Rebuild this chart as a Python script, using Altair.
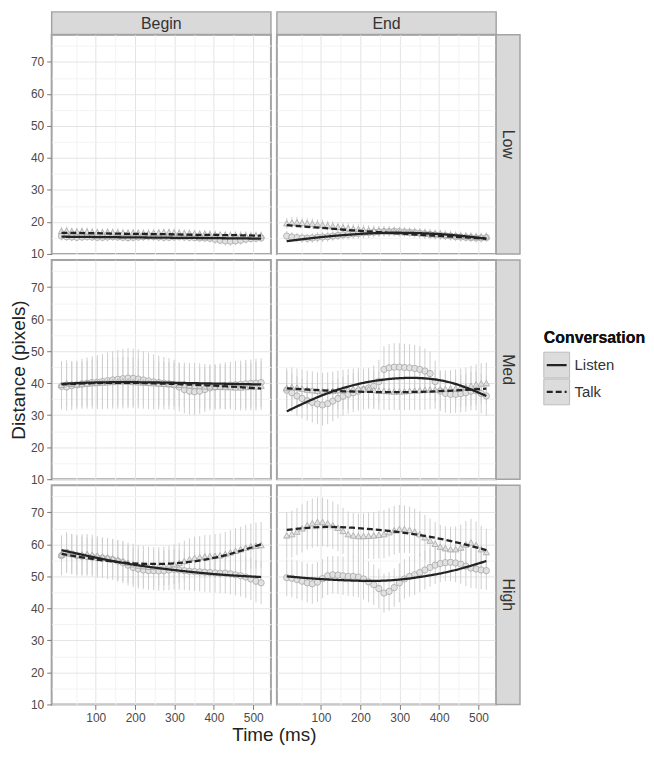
import altair as alt
import pandas as pd

# ---------------- data ----------------
PERIODS = ["Begin", "End"]
LEVELS = ["Low", "Med", "High"]
CONVERSATIONS = ["Listen", "Talk"]
LEGEND_TITLE = "Conversation"
X_TITLE = "Time (ms)"
Y_TITLE = "Distance (pixels)"

TIMES = [13, 26, 39, 52, 65, 78, 91, 104, 117, 130,
         143, 156, 169, 182, 195, 208, 221, 234, 247, 260,
         273, 286, 299, 312, 325, 338, 351, 364, 377, 390,
         403, 416, 429, 442, 455, 468, 481, 494, 507, 520]
FIT_TIMES = [13, 95, 180, 265, 350, 435, 520]

X_GRID = [50, 100, 150, 200, 250, 300, 350, 400, 450, 500]
Y_GRID = [10, 15, 20, 25, 30, 35, 40, 45, 50, 55, 60, 65, 70, 75]

BEGIN_LOW_LISTEN = [15.6, 15.4, 15.3, 15.2, 15.3, 15.4, 15.3, 15.2, 15.2, 15.3,
                    15.4, 15.3, 15.2, 15.1, 15.2, 15.3, 15.4, 15.5, 15.4, 15.3,
                    15.2, 15.2, 15.3, 15.4, 15.3, 15.2, 15.1, 15.0, 15.0, 14.9,
                    14.6, 14.3, 14.1, 14.0, 14.1, 14.3, 14.6, 14.8, 14.9, 15.0]
BEGIN_LOW_TALK = [17.2, 17.3, 17.1, 17.0, 17.1, 17.0, 16.9, 16.8, 16.8, 16.9,
                  16.8, 16.7, 16.6, 16.6, 16.7, 16.6, 16.5, 16.5, 16.6, 16.7,
                  16.8, 16.8, 16.7, 16.6, 16.5, 16.5, 16.4, 16.3, 16.3, 16.2,
                  16.1, 16.0, 16.0, 15.9, 15.9, 15.8, 15.8, 15.7, 15.8, 15.8]
END_LOW_LISTEN = [15.6, 15.3, 15.1, 15.0, 14.9, 15.0, 15.2, 15.3, 15.4, 15.6,
                  15.8, 16.0, 16.1, 16.3, 16.4, 16.6, 16.7, 16.8, 16.9, 17.0,
                  17.0, 17.1, 17.0, 16.9, 16.8, 16.7, 16.5, 16.3, 16.1, 16.0,
                  15.9, 15.7, 15.6, 15.4, 15.3, 15.2, 15.1, 15.0, 15.0, 15.1]
END_LOW_TALK = [19.6, 19.8, 19.9, 19.7, 19.6, 19.5, 19.3, 19.1, 18.9, 18.7,
                18.5, 18.3, 18.1, 17.9, 17.8, 17.6, 17.5, 17.4, 17.3, 17.2,
                17.1, 17.0, 16.9, 16.8, 16.8, 16.7, 16.6, 16.5, 16.4, 16.3,
                16.2, 16.0, 15.9, 15.8, 15.7, 15.6, 15.5, 15.4, 15.4, 15.5]
BEGIN_MED_LISTEN = [39.0, 38.8, 39.2, 39.5, 39.8, 40.0, 40.2, 40.3, 40.5, 40.8,
                    41.0, 41.2, 41.4, 41.6, 41.5, 41.3, 41.0, 40.7, 40.4, 40.2,
                    40.0, 39.8, 39.5, 38.8, 38.0, 37.5, 37.3, 37.5, 38.0, 38.5,
                    38.8, 39.0, 39.2, 39.4, 39.5, 39.6, 39.8, 39.9, 40.0, 40.2]
BEGIN_MED_TALK = [39.5, 40.0, 39.8, 39.6, 39.7, 39.9, 40.0, 40.1, 40.2, 40.3,
                  40.4, 40.5, 40.6, 40.5, 40.4, 40.3, 40.2, 40.1, 40.0, 39.9,
                  39.8, 39.7, 39.6, 39.5, 39.4, 39.3, 39.2, 39.1, 39.0, 39.0,
                  38.9, 38.9, 38.8, 38.8, 38.7, 38.7, 38.8, 38.9, 39.0, 39.2]
END_MED_LISTEN = [37.8, 37.0, 36.0, 35.2, 34.5, 34.0, 33.5, 33.2, 33.6, 34.4,
                  35.2, 35.9, 36.5, 37.0, 37.5, 38.0, 38.5, 39.0, 40.5, 44.3,
                  44.8, 45.0, 45.0, 44.9, 44.8, 44.6, 44.3, 43.8, 43.0, 40.5,
                  37.5, 36.8, 36.5, 36.5, 36.7, 37.0, 37.5, 37.6, 36.8, 36.0]
END_MED_TALK = [38.5, 38.8, 38.6, 38.3, 38.0, 37.8, 37.6, 37.5, 37.5, 37.6,
                37.8, 38.0, 38.2, 38.3, 38.4, 38.3, 38.1, 37.9, 37.7, 37.6,
                37.5, 37.4, 37.4, 37.5, 37.6, 37.7, 37.8, 37.9, 38.0, 38.0,
                38.1, 38.2, 38.3, 38.4, 38.6, 38.8, 39.2, 39.6, 39.9, 40.0]
BEGIN_HIGH_LISTEN = [56.5, 57.5, 57.0, 56.5, 56.3, 56.2, 56.0, 55.8, 55.7, 55.5,
                     55.2, 54.8, 54.3, 53.5, 52.8, 52.3, 52.0, 51.8, 51.8, 51.7,
                     51.8, 52.0, 52.2, 52.0, 51.8, 51.6, 51.5, 51.4, 51.3, 51.2,
                     51.1, 51.0, 51.0, 50.8, 50.5, 50.2, 49.8, 49.2, 48.5, 48.0]
BEGIN_HIGH_TALK = [56.8, 57.2, 57.0, 56.8, 56.9, 57.0, 56.8, 56.5, 56.2, 56.0,
                   55.6, 55.2, 54.8, 54.3, 53.8, 53.4, 53.2, 53.0, 53.0, 53.1,
                   53.3, 53.5, 53.8, 54.2, 54.8, 55.4, 55.8, 56.0, 56.2, 56.3,
                   56.4, 56.6, 57.0, 57.5, 58.0, 58.5, 59.0, 59.4, 59.6, 59.8]
END_HIGH_LISTEN = [49.6, 49.4, 49.0, 48.5, 48.0, 47.7, 48.2, 49.3, 50.2, 50.5,
                   50.4, 50.2, 50.0, 50.0, 49.8, 49.2, 48.3, 47.4, 46.2, 44.8,
                   45.3, 46.5, 48.0, 49.2, 50.0, 50.5, 51.2, 52.0, 52.8, 53.5,
                   54.0, 54.3, 54.4, 54.2, 53.8, 53.2, 52.6, 52.3, 52.0, 51.8]
END_HIGH_TALK = [62.8, 63.2, 64.0, 65.0, 66.0, 66.6, 67.0, 67.0, 66.6, 66.0,
                 65.2, 64.2, 63.2, 62.8, 62.6, 62.6, 62.7, 62.8, 63.0, 63.2,
                 63.8, 64.4, 64.8, 64.8, 64.5, 64.0, 63.2, 62.2, 61.2, 60.2,
                 59.3, 58.8, 58.5, 58.5, 59.0, 60.0, 60.6, 59.8, 58.5, 57.6]

SE_BEGIN_LOW_LISTEN = [1.4, 1.3, 1.3, 1.2, 1.3, 1.3, 1.2, 1.2, 1.3, 1.3,
                       1.3, 1.2, 1.2, 1.3, 1.3, 1.3, 1.4, 1.4, 1.3, 1.3,
                       1.3, 1.2, 1.2, 1.3, 1.3, 1.3, 1.2, 1.2, 1.3, 1.3,
                       1.4, 1.4, 1.5, 1.5, 1.4, 1.4, 1.3, 1.3, 1.3, 1.3]
SE_BEGIN_LOW_TALK = [1.3, 1.3, 1.2, 1.2, 1.2, 1.3, 1.3, 1.2, 1.2, 1.2,
                     1.2, 1.3, 1.3, 1.2, 1.2, 1.2, 1.3, 1.3, 1.3, 1.2,
                     1.2, 1.2, 1.3, 1.3, 1.2, 1.2, 1.2, 1.2, 1.3, 1.3,
                     1.3, 1.2, 1.2, 1.2, 1.2, 1.3, 1.3, 1.3, 1.2, 1.2]
SE_END_LOW_LISTEN = [1.6, 1.6, 1.5, 1.5, 1.5, 1.5, 1.6, 1.6, 1.6, 1.5,
                     1.5, 1.5, 1.6, 1.6, 1.6, 1.7, 1.7, 1.7, 1.6, 1.6,
                     1.6, 1.5, 1.5, 1.5, 1.5, 1.6, 1.6, 1.6, 1.5, 1.5,
                     1.5, 1.4, 1.4, 1.4, 1.4, 1.4, 1.4, 1.4, 1.4, 1.4]
SE_END_LOW_TALK = [1.7, 1.7, 1.7, 1.6, 1.6, 1.6, 1.6, 1.6, 1.5, 1.5,
                   1.5, 1.5, 1.5, 1.5, 1.5, 1.5, 1.5, 1.5, 1.5, 1.5,
                   1.5, 1.5, 1.4, 1.4, 1.4, 1.4, 1.4, 1.4, 1.4, 1.4,
                   1.4, 1.4, 1.4, 1.3, 1.3, 1.3, 1.3, 1.3, 1.3, 1.3]
SE_BEGIN_MED_LISTEN = [7.2, 7.4, 7.6, 7.5, 7.8, 8.0, 8.2, 8.4, 8.6, 8.8,
                       9.0, 9.2, 9.3, 9.4, 9.3, 9.2, 9.0, 8.8, 8.6, 8.4,
                       8.2, 8.0, 7.8, 7.6, 7.4, 7.3, 7.2, 7.1, 7.0, 7.0,
                       7.1, 7.2, 7.3, 7.3, 7.4, 7.4, 7.5, 7.5, 7.6, 7.6]
SE_BEGIN_MED_TALK = [7.4, 7.2, 7.0, 6.9, 7.0, 7.1, 7.2, 7.3, 7.3, 7.4,
                     7.5, 7.5, 7.6, 7.6, 7.5, 7.4, 7.3, 7.2, 7.1, 7.0,
                     6.9, 6.8, 6.8, 6.9, 7.0, 7.0, 7.1, 7.1, 7.0, 6.9,
                     6.8, 6.8, 6.9, 7.0, 7.1, 7.2, 7.3, 7.4, 7.5, 7.6]
SE_END_MED_LISTEN = [6.0, 6.0, 6.1, 6.2, 6.2, 6.3, 6.3, 6.4, 6.4, 6.3,
                     6.2, 6.1, 6.0, 6.0, 6.1, 6.2, 6.3, 6.5, 6.8, 7.2,
                     7.4, 7.5, 7.5, 7.4, 7.4, 7.3, 7.2, 7.0, 6.8, 6.5,
                     6.2, 6.0, 5.9, 5.8, 5.8, 5.9, 6.0, 6.1, 6.2, 6.2]
SE_END_MED_TALK = [6.2, 6.1, 6.0, 6.0, 5.9, 5.9, 5.8, 5.8, 5.9, 6.0,
                   6.1, 6.2, 6.2, 6.3, 6.3, 6.2, 6.1, 6.0, 6.0, 5.9,
                   5.9, 5.8, 5.8, 5.9, 6.0, 6.1, 6.2, 6.2, 6.1, 6.0,
                   5.9, 5.8, 5.8, 5.9, 6.0, 6.1, 6.2, 6.3, 6.3, 6.4]
SE_BEGIN_HIGH_LISTEN = [6.2, 6.3, 6.3, 6.2, 6.1, 6.0, 6.0, 6.1, 6.2, 6.3,
                        6.3, 6.4, 6.4, 6.3, 6.2, 6.1, 6.0, 6.0, 6.1, 6.2,
                        6.2, 6.3, 6.3, 6.2, 6.1, 6.0, 6.0, 6.1, 6.1, 6.2,
                        6.2, 6.3, 6.3, 6.4, 6.4, 6.5, 6.5, 6.6, 6.6, 6.7]
SE_BEGIN_HIGH_TALK = [6.0, 6.1, 6.2, 6.2, 6.3, 6.3, 6.2, 6.1, 6.0, 6.0,
                      6.1, 6.2, 6.3, 6.3, 6.4, 6.4, 6.3, 6.2, 6.1, 6.0,
                      6.0, 6.1, 6.2, 6.3, 6.4, 6.5, 6.6, 6.6, 6.7, 6.7,
                      6.8, 6.8, 6.9, 6.9, 7.0, 7.0, 7.1, 7.1, 7.2, 7.2]
SE_END_HIGH_LISTEN = [5.8, 5.9, 6.0, 6.0, 6.1, 6.2, 6.2, 6.1, 6.0, 5.9,
                      5.9, 6.0, 6.1, 6.2, 6.3, 6.4, 6.4, 6.3, 6.2, 6.1,
                      6.0, 6.0, 6.1, 6.2, 6.3, 6.3, 6.2, 6.1, 6.0, 5.9,
                      5.8, 5.8, 5.9, 6.0, 6.1, 6.2, 6.2, 6.1, 6.0, 6.0]
SE_END_HIGH_TALK = [7.2, 7.3, 7.4, 7.5, 7.6, 7.7, 7.7, 7.6, 7.5, 7.4,
                    7.3, 7.2, 7.1, 7.0, 7.0, 7.1, 7.2, 7.3, 7.4, 7.5,
                    7.6, 7.6, 7.5, 7.4, 7.3, 7.2, 7.1, 7.0, 6.9, 6.8,
                    6.8, 6.9, 7.0, 7.1, 7.2, 7.3, 7.4, 7.4, 7.3, 7.2]

FIT_BEGIN_LOW_LISTEN = [15.4, 15.3, 15.2, 15.1, 15.0, 14.9, 14.8]
FIT_BEGIN_LOW_TALK = [16.6, 16.5, 16.3, 16.2, 16.0, 15.9, 15.7]
FIT_END_LOW_LISTEN = [14.0, 15.2, 16.1, 16.6, 16.5, 15.9, 14.8]
FIT_END_LOW_TALK = [19.0, 18.2, 17.4, 16.7, 16.0, 15.4, 14.8]
FIT_BEGIN_MED_LISTEN = [39.8, 40.2, 40.3, 40.2, 40.0, 39.8, 39.6]
FIT_BEGIN_MED_TALK = [39.6, 40.0, 40.1, 39.9, 39.5, 39.0, 38.3]
FIT_END_MED_LISTEN = [31.2, 35.8, 39.3, 41.2, 41.6, 40.0, 36.0]
FIT_END_MED_TALK = [38.4, 37.8, 37.4, 37.2, 37.3, 37.7, 38.3]
FIT_BEGIN_HIGH_LISTEN = [58.2, 56.0, 54.0, 52.5, 51.3, 50.4, 49.8]
FIT_BEGIN_HIGH_TALK = [57.0, 55.4, 54.2, 53.9, 54.7, 56.8, 60.0]
FIT_END_HIGH_LISTEN = [50.0, 49.2, 48.7, 48.7, 49.8, 51.8, 54.8]
FIT_END_HIGH_TALK = [64.5, 65.4, 65.2, 64.3, 62.9, 60.9, 58.2]

SERIES = {
    ("Begin", "Low", "Listen"): (BEGIN_LOW_LISTEN, SE_BEGIN_LOW_LISTEN, FIT_BEGIN_LOW_LISTEN),
    ("Begin", "Low", "Talk"): (BEGIN_LOW_TALK, SE_BEGIN_LOW_TALK, FIT_BEGIN_LOW_TALK),
    ("End", "Low", "Listen"): (END_LOW_LISTEN, SE_END_LOW_LISTEN, FIT_END_LOW_LISTEN),
    ("End", "Low", "Talk"): (END_LOW_TALK, SE_END_LOW_TALK, FIT_END_LOW_TALK),
    ("Begin", "Med", "Listen"): (BEGIN_MED_LISTEN, SE_BEGIN_MED_LISTEN, FIT_BEGIN_MED_LISTEN),
    ("Begin", "Med", "Talk"): (BEGIN_MED_TALK, SE_BEGIN_MED_TALK, FIT_BEGIN_MED_TALK),
    ("End", "Med", "Listen"): (END_MED_LISTEN, SE_END_MED_LISTEN, FIT_END_MED_LISTEN),
    ("End", "Med", "Talk"): (END_MED_TALK, SE_END_MED_TALK, FIT_END_MED_TALK),
    ("Begin", "High", "Listen"): (BEGIN_HIGH_LISTEN, SE_BEGIN_HIGH_LISTEN, FIT_BEGIN_HIGH_LISTEN),
    ("Begin", "High", "Talk"): (BEGIN_HIGH_TALK, SE_BEGIN_HIGH_TALK, FIT_BEGIN_HIGH_TALK),
    ("End", "High", "Listen"): (END_HIGH_LISTEN, SE_END_HIGH_LISTEN, FIT_END_HIGH_LISTEN),
    ("End", "High", "Talk"): (END_HIGH_TALK, SE_END_HIGH_TALK, FIT_END_HIGH_TALK),
}

rows, fit_rows = [], []
for (p, l, c), (means, ses, fits) in SERIES.items():
    for t, m, s in zip(TIMES, means, ses):
        rows.append(dict(Period=p, Level=l, Conversation=c, Time=t, Mean=m, lo=m - s, hi=m + s))
    for t, f in zip(FIT_TIMES, fits):
        fit_rows.append(dict(Period=p, Level=l, Conversation=c, Time=t, Fit=f))
points_df = pd.DataFrame(rows)
fit_df = pd.DataFrame(fit_rows)

# ---------------- style ----------------
FONT = "Liberation Sans"
W, H = 221, 221
STRIP = 23
GAP = 6
X_DOMAIN = [-12, 545]
Y_DOMAIN = [10, 78.5]
MAJOR = "#e4e4e4"
MINOR = "#f3f3f3"
BORDER = "#a4a4a4"
STRIP_FILL = "#d9d9d9"
TEXT = "#333333"
LEG_X = 42  # legend left offset from the strip column

SHAPE_SCALE = alt.Scale(domain=CONVERSATIONS, range=["circle", "triangle-up"])
DASH_SCALE = alt.Scale(domain=CONVERSATIONS, range=[[1, 0], [6, 3]])


def cond(step, a, b):
    return {"condition": {"test": f"datum.value % {step} === 0", "value": a}, "value": b}


def make_axis(values, step, show, title=None, title_x=None):
    kw = dict(values=values, gridColor=cond(step, MAJOR, MINOR), gridWidth=1,
              domain=False, labelFlush=False, labelOverlap=False)
    if show:
        kw.update(labelExpr=f"datum.value % {step} === 0 ? datum.label : ''",
                  tickOpacity=cond(step, 1, 0), tickSize=5, labelPadding=3,
                  title=title, titlePadding=2)
        if title_x is not None:
            kw["titleX"] = title_x
    else:
        kw.update(labels=False, ticks=False, title=None)
    return alt.Axis(**kw)


def panel(period, level, show_y, show_x, y_title=None, x_title=None):
    pts = points_df[(points_df.Period == period) & (points_df.Level == level)]
    fit = fit_df[(fit_df.Period == period) & (fit_df.Level == level)]
    xa = make_axis(X_GRID, 100, show_x, x_title, (W + GAP / 2) if x_title else None)
    ya = make_axis(Y_GRID, 10, show_y, y_title)
    xs = alt.Scale(domain=X_DOMAIN, nice=False, zero=False)
    ys = alt.Scale(domain=Y_DOMAIN, nice=False, zero=False)
    bars = alt.Chart(pts).mark_rule(color="#cfcfcf", strokeWidth=1).encode(
        x=alt.X("Time:Q", scale=xs, axis=xa),
        y=alt.Y("lo:Q", scale=ys, axis=ya),
        y2="hi:Q",
    )
    dots = alt.Chart(pts).mark_point(filled=True, fill="#e0e0e0", stroke="#a8a8a8",
                                     strokeWidth=1, size=40, opacity=0.85).encode(
        x=alt.X("Time:Q", scale=xs, axis=xa),
        y=alt.Y("Mean:Q", scale=ys, axis=ya),
        shape=alt.Shape("Conversation:N", scale=SHAPE_SCALE, legend=None),
    )
    lines = alt.Chart(fit).mark_line(color="#232323", strokeWidth=2.3, interpolate="natural").encode(
        x=alt.X("Time:Q", scale=xs, axis=xa),
        y=alt.Y("Fit:Q", scale=ys, axis=ya),
        strokeDash=alt.StrokeDash("Conversation:N", scale=DASH_SCALE, legend=None),
        detail="Conversation:N",
    )
    return alt.layer(bars, dots, lines).properties(
        width=W, height=H, view=alt.ViewBackground(stroke=BORDER, strokeWidth=2)
    )


def top_strip(label):
    base = alt.Chart(pd.DataFrame({"label": [label]}))
    rect = base.mark_rect(fill=STRIP_FILL, stroke=BORDER, strokeWidth=1.5).encode(
        x=alt.value(0), x2=alt.value(W), y=alt.value(0), y2=alt.value(STRIP))
    txt = base.mark_text(fontSize=16, color=TEXT, font=FONT, baseline="middle").encode(
        x=alt.value(W / 2), y=alt.value(STRIP / 2 + 0.5), text="label:N")
    return alt.layer(rect, txt).properties(width=W, height=STRIP - GAP)


def right_strip(label, with_legend=False):
    base = alt.Chart(pd.DataFrame({"label": [label]}))
    rect = base.mark_rect(fill=STRIP_FILL, stroke=BORDER, strokeWidth=1.5).encode(
        x=alt.value(-GAP), x2=alt.value(STRIP - GAP + 1), y=alt.value(0), y2=alt.value(H))
    txt = base.mark_text(fontSize=16, color=TEXT, font=FONT, angle=90, baseline="middle").encode(
        x=alt.value(STRIP / 2 - GAP + 0.5), y=alt.value(H / 2), text="label:N")
    layers = [rect, txt]
    if with_legend:
        leg = alt.Chart(pd.DataFrame({"Conversation": CONVERSATIONS}))
        ly = alt.Y("Conversation:N", axis=None,
                   scale=alt.Scale(type="point", domain=CONVERSATIONS, range=[106, 133], padding=0))
        title = leg.mark_text(fontSize=16, fontWeight="bold", color="#111111", font=FONT,
                              align="left", baseline="middle").encode(
            x=alt.value(LEG_X), y=alt.value(79), text=alt.value(LEGEND_TITLE))
        boxes = leg.mark_square(size=676, filled=True, fill="#dcdcdc", stroke="#bcbcbc",
                                strokeWidth=1, opacity=1).encode(x=alt.value(LEG_X + 13), y=ly)
        keys = leg.mark_rule(color="#232323", strokeWidth=2.3).encode(
            x=alt.value(LEG_X + 3), x2=alt.value(LEG_X + 23), y=ly,
            strokeDash=alt.StrokeDash("Conversation:N", scale=DASH_SCALE, legend=None))
        labels = leg.mark_text(fontSize=15, color=TEXT, font=FONT, align="left", baseline="middle").encode(
            x=alt.value(LEG_X + 31), y=ly, text="Conversation:N")
        layers += [title, boxes, keys, labels]
    return alt.layer(*layers).properties(width=STRIP - GAP, height=H)


empty = alt.Chart(pd.DataFrame({"v": [0]})).mark_rect(opacity=0).encode(
    x=alt.value(2), x2=alt.value(4), y=alt.value(2), y2=alt.value(4)
).properties(width=STRIP - GAP, height=STRIP - GAP)

cells = [top_strip("Begin"), top_strip("End"), empty]
for level in LEVELS:
    bottom = level == "High"
    cells.append(panel("Begin", level, True, bottom,
                       y_title=Y_TITLE if level == "Med" else None,
                       x_title=X_TITLE if bottom else None))
    cells.append(panel("End", level, False, bottom))
    cells.append(right_strip(level, with_legend=(level == "Med")))

chart = alt.concat(*cells, columns=3, spacing=GAP, bounds="flush", align="each").properties(
    padding=0
).configure_view(stroke=None).configure_axis(
    labelFont=FONT, titleFont=FONT, labelFontSize=12, labelColor="#4a4a4a",
    tickColor="#7a7a7a", titleColor="#222222", titleFontSize=19, titleFontWeight="normal",
)

chart.save("out.html", embed_options={"renderer": "svg", "actions": False})
